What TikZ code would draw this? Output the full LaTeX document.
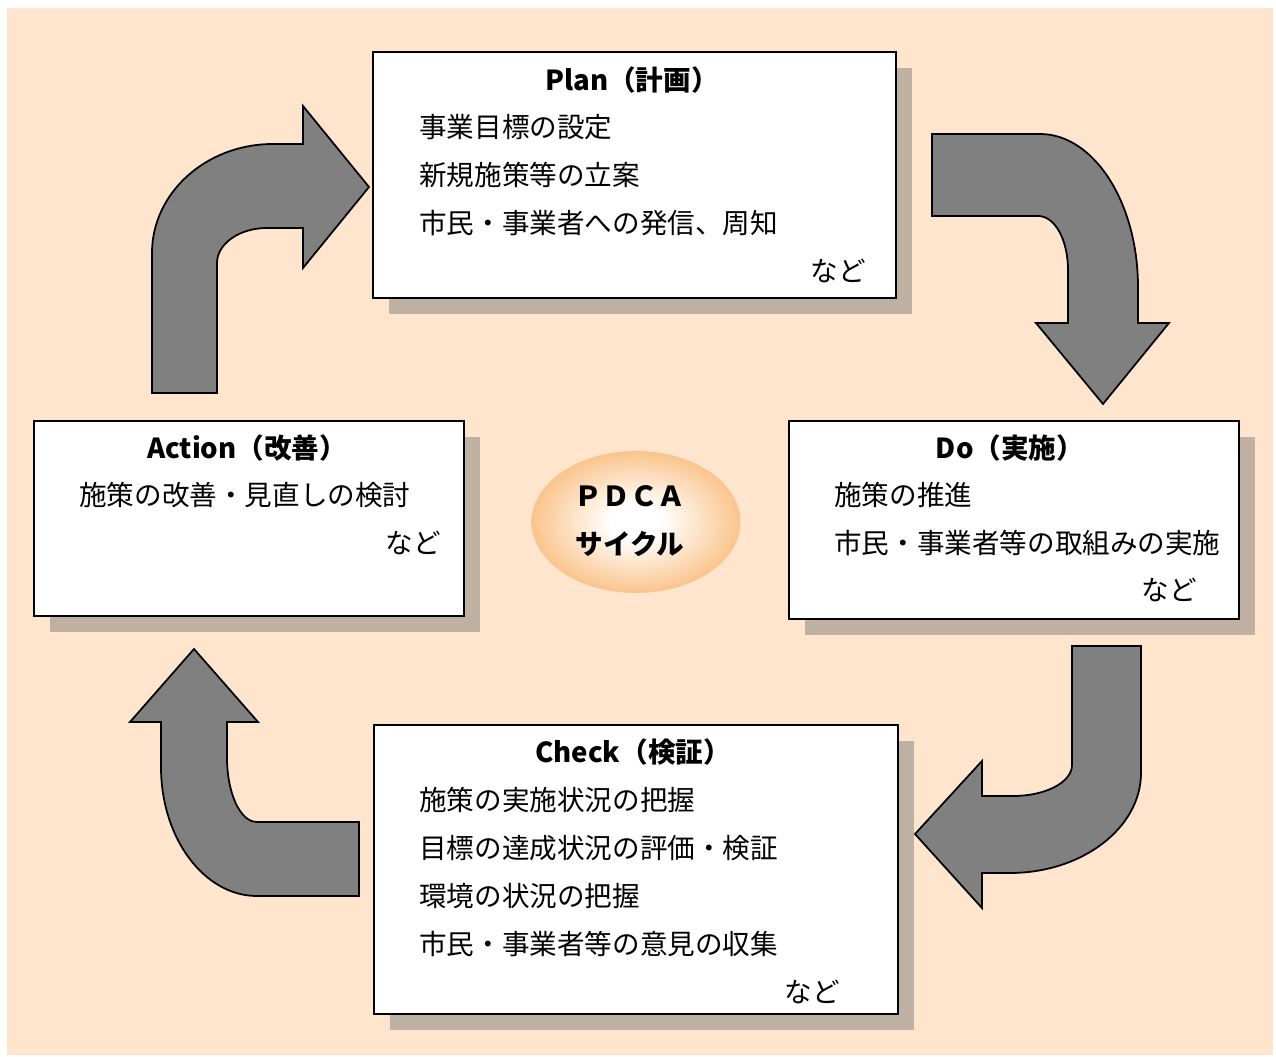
\documentclass[tikz,border=0pt]{standalone}
\usepackage{fontspec}
\setmainfont{Noto Sans CJK JP}
\usetikzlibrary{fit,shapes.geometric}
\definecolor{bgc}{RGB}{255,229,206}
\definecolor{shadowc}{RGB}{190,176,163}
\definecolor{arrowgray}{RGB}{128,128,128}
\definecolor{glowc}{RGB}{250,196,140}
\pgfdeclareradialshading{pdcaglow}{\pgfpoint{0bp}{0bp}}{color(0bp)=(white); color(6bp)=(white); color(25bp)=(glowc); color(50bp)=(glowc)}
\begin{document}
\begin{tikzpicture}[x=0.02cm,y=-0.02cm,
  box/.style={draw=black, line width=1pt, fill=white, inner sep=0pt},
  shadowbox/.style={fill=shadowc},
  bentarrow/.style={fill=arrowgray, draw=black, line width=1pt, line join=miter},
  txt/.style={inner sep=0pt, font=\fontsize{15.7pt}{18pt}\selectfont},
  ttl/.style={inner sep=0pt, font=\fontsize{15.7pt}{18pt}\selectfont\bfseries}]
\useasboundingbox (0,0) rectangle (1276,1057);
\fill[white] (0,0) rectangle (1276,1057);
\fill[bgc] (7,8) rectangle (1273,1055);

% shadows
\fill[shadowbox] (389,68) rectangle (912,314);
\fill[shadowbox] (805,437) rectangle (1255,635);
\fill[shadowbox] (50,437) rectangle (480,632);
\fill[shadowbox] (390,741) rectangle (914,1030);

% boxes
\node[box, fit={(373,52) (896,298)}] (plan) {};
\node[box, fit={(789,421) (1239,619)}] (do) {};
\node[box, fit={(34,421) (464,616)}] (act) {};
\node[box, fit={(374,725) (898,1014)}] (chk) {};

% bent arrows
\draw[bentarrow] (152,393) -- (152,253) .. controls (152,193) and (206,144) .. (273,144)
  -- (303,144) -- (303,106) -- (369,187) -- (303,268) -- (303,228) -- (267,228)
  .. controls (239,228) and (217,244) .. (217,263) -- (217,393) -- cycle;
\draw[bentarrow] (932,134) -- (1040,134) .. controls (1094,134) and (1138,203) .. (1138,287)
  -- (1138,323) -- (1169,323) -- (1103,404) -- (1036,323) -- (1068,323) -- (1068,270)
  .. controls (1068,240) and (1055,216) .. (1038,216) -- (932,216) -- cycle;
\draw[bentarrow] (1072,646) -- (1141,646) -- (1141,773) .. controls (1141,828) and (1082,873) .. (1010,873)
  -- (982,873) -- (982,908) -- (915,834) -- (982,761) -- (982,796) -- (1013,796)
  .. controls (1046,796) and (1072,782) .. (1072,765) -- cycle;
\draw[bentarrow] (359,822) -- (359,896) -- (257,896) .. controls (204,896) and (161,838) .. (161,767)
  -- (161,722) -- (130,722) -- (194,649) -- (258,722) -- (227,722) -- (227,757)
  .. controls (227,793) and (240,822) .. (257,822) -- cycle;

% centre
\node[ellipse, minimum width=4.18cm, minimum height=2.84cm, inner sep=0pt, shading=pdcaglow] (pdca) at (636,522) {};
\node[align=center, inner sep=0pt, font=\fontsize{15.7pt}{27.2pt}\selectfont\bfseries] (pdcat) at (630,521) {ＰＤＣＡ\\サイクル};

% Plan texts
\node[ttl] (plant) at (632,80) {Plan（計画）};
\node[txt, anchor=west] (plan1) at (419,127) {事業目標の設定};
\node[txt, anchor=west] (plan2) at (419,175) {新規施策等の立案};
\node[txt, anchor=west] (plan3) at (419,223) {市民・事業者への発信、周知};
\node[txt, anchor=east] (plan4) at (866,271) {など};

% Do texts
\node[ttl] (dot) at (1010,448) {Do（実施）};
\node[txt, anchor=west] (do1) at (834,495) {施策の推進};
\node[txt, anchor=west] (do2) at (834,543) {市民・事業者等の取組みの実施};
\node[txt, anchor=east] (do3) at (1197,590) {など};

% Action texts
\node[ttl] (actt) at (247,448) {Action（改善）};
\node[txt, anchor=west] (act1) at (79,495) {施策の改善・見直しの検討};
\node[txt, anchor=east] (act2) at (441,543) {など};

% Check texts
\node[ttl] (chkt) at (633,752) {Check（検証）};
\node[txt, anchor=west] (chk1) at (419,800) {施策の実施状況の把握};
\node[txt, anchor=west] (chk2) at (419,848) {目標の達成状況の評価・検証};
\node[txt, anchor=west] (chk3) at (419,896) {環境の状況の把握};
\node[txt, anchor=west] (chk4) at (419,944) {市民・事業者等の意見の収集};
\node[txt, anchor=east] (chk5) at (840,992) {など};
\end{tikzpicture}
\end{document}
